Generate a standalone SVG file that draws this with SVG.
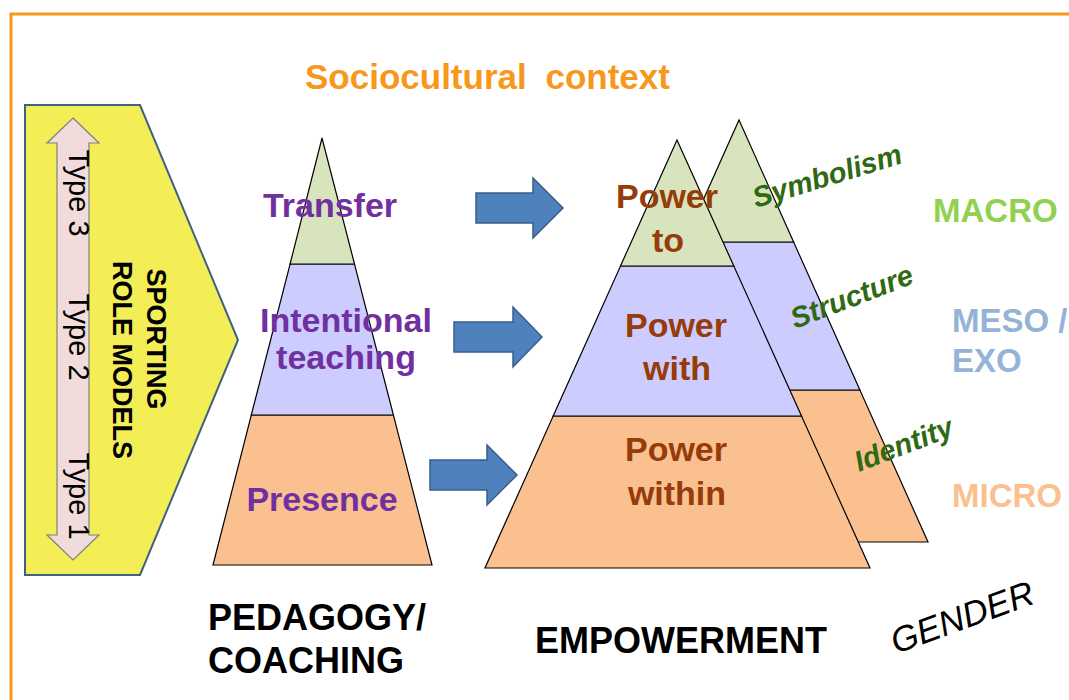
<svg xmlns="http://www.w3.org/2000/svg" width="1069" height="700" viewBox="0 0 1069 700">
  <style>
    text { font-family: "Liberation Sans", Arial, sans-serif; }
    .b { font-weight: bold; }
    .lvl { stroke: #000; stroke-width: 1.2; stroke-linejoin: miter; }
    .g { fill: #d7e4bd; }
    .l { fill: #ccccff; }
    .o { fill: #fac090; }
    .purple { fill: #7030a0; font-weight: bold; font-size: 34px; text-anchor: middle; }
    .brown { fill: #963c0a; font-weight: bold; font-size: 34px; text-anchor: middle; }
    .dim { fill: #2f6a12; font-weight: bold; font-style: italic; font-size: 29px; }
    .scale { font-weight: bold; font-size: 33px; }
    .caption { fill: #000; font-weight: bold; font-size: 36px; }
    .blk { fill: #4f81bd; stroke: #385d8a; stroke-width: 1.5; }
  </style>

  <rect width="1069" height="700" fill="#ffffff"/>
  <!-- frame -->
  <rect x="11" y="14" width="1100" height="750" fill="none" stroke="#f7981d" stroke-width="3"/>

  <text x="305" y="89" class="b" font-size="35" fill="#f7981d" word-spacing="9">Sociocultural context</text>

  <!-- role model chevron -->
  <g id="role-models">
    <polygon points="25,105 140,105 238,340 140,575 25,575" fill="#f3ee55" stroke="#3f6282" stroke-width="2"/>
    <polygon points="73,118 99,143 89,143 89,535 99,535 73,560 47,535 57,535 57,143 47,143" fill="#f2dcdb" stroke="#7f7f7f" stroke-width="1.2"/>
    <g font-size="29" fill="#000">
      <text transform="translate(69,193) rotate(90)" text-anchor="middle">Type 3</text>
      <text transform="translate(69,337) rotate(90)" text-anchor="middle">Type 2</text>
      <text transform="translate(69,496) rotate(90)" text-anchor="middle">Type 1</text>
    </g>
    <g class="b" font-size="27" fill="#000">
      <text transform="translate(147,339) rotate(90)" text-anchor="middle">SPORTING</text>
      <text transform="translate(113,360) rotate(90)" text-anchor="middle">ROLE MODELS</text>
    </g>
  </g>

  <!-- pedagogy pyramid -->
  <g id="pedagogy">
    <polygon class="lvl o" points="251.3,415 393.4,415 432,565 213,565"/>
    <polygon class="lvl l" points="290.1,264 354.5,264 393.4,415 251.3,415"/>
    <polygon class="lvl g" points="322,138 354.5,264 290.1,264"/>
    <text x="330" y="217" class="purple">Transfer</text>
    <text x="346" y="332" class="purple">Intentional</text>
    <text x="346" y="369" class="purple">teaching</text>
    <text x="322" y="511" class="purple">Presence</text>
    <text x="208" y="630" class="caption">PEDAGOGY/</text>
    <text x="208" y="673" class="caption">COACHING</text>
  </g>

  <!-- connectors -->
  <g id="connectors">
    <polygon class="blk" points="476,193 533,193 533,178 563,208 533,238 533,223 476,223"/>
    <polygon class="blk" points="454,322 513,322 513,307 542,337 513,367 513,352 454,352"/>
    <polygon class="blk" points="430,460 487,460 487,445 517,475 487,505 487,490 430,490"/>
  </g>

  <!-- dimension pyramid behind -->
  <g id="dimensions">
    <polygon class="lvl o" points="618.1,390 859.9,390 928,542 550,542"/>
    <polygon class="lvl l" points="684.4,242 793.6,242 859.9,390 618.1,390"/>
    <polygon class="lvl g" points="739,120 793.6,242 684.4,242"/>
  </g>

  <!-- empowerment pyramid -->
  <g id="empowerment">
    <polygon class="lvl o" points="553.2,416 801.5,416 870,568 485,568"/>
    <polygon class="lvl l" points="620.5,266 733.8,266 801.5,416 553.2,416"/>
    <polygon class="lvl g" points="677,140 733.8,266 620.5,266"/>
    <text x="667" y="208" class="brown">Power</text>
    <text x="668" y="252" class="brown">to</text>
    <text x="676" y="337" class="brown">Power</text>
    <text x="677" y="380" class="brown">with</text>
    <text x="676" y="461" class="brown">Power</text>
    <text x="677" y="505" class="brown">within</text>
    <text x="535" y="653" class="caption">EMPOWERMENT</text>
  </g>

  <g id="dimension-labels">
    <text class="dim" transform="translate(756,208) rotate(-17)">Symbolism</text>
    <text class="dim" transform="translate(795,329) rotate(-21)">Structure</text>
    <text class="dim" transform="translate(859,472) rotate(-21)">Identity</text>
  </g>

  <g id="levels">
    <text x="933" y="222" class="scale" fill="#92d050">MACRO</text>
    <text x="952" y="332" class="scale" fill="#95b3d7">MESO /</text>
    <text x="952" y="372" class="scale" fill="#95b3d7">EXO</text>
    <text x="952" y="507" class="scale" fill="#fac090">MICRO</text>
  </g>

  <text transform="translate(896,654) rotate(-20)" font-size="35" font-style="italic" fill="#000">GENDER</text>
</svg>
